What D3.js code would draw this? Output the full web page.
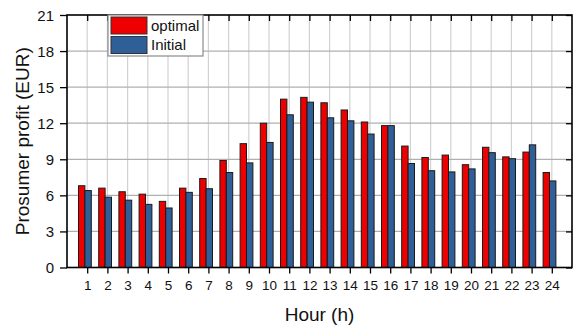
<!DOCTYPE html>
<html>
<head>
<meta charset="utf-8">
<script src="https://cdn.jsdelivr.net/npm/d3@7"></script>
<style>
  html, body { margin: 0; padding: 0; background: #fff; }
  svg { display: block; font-family: "Liberation Sans", Arial, sans-serif; }
</style>
</head>
<body>
<svg id="chart" width="576" height="329"></svg>
<script>
// Hourly prosumer profit, optimal vs. initial schedule
const hours = d3.range(1, 25);
const optimalProfit = [6.8, 6.6, 6.3, 6.1, 5.5, 6.6, 7.4, 8.9, 10.3, 12.0, 14.0, 14.15,
                       13.7, 13.1, 12.1, 11.8, 10.1, 9.15, 9.35, 8.55, 10.0, 9.2, 9.6, 7.9];
const initialProfit = [6.4, 5.85, 5.6, 5.25, 4.95, 6.25, 6.55, 7.9, 8.7, 10.4, 12.7, 13.75,
                       12.45, 12.2, 11.1, 11.8, 8.65, 8.05, 7.95, 8.2, 9.55, 9.05, 10.2, 7.2];
const yTicks = [0, 3, 6, 9, 12, 15, 18, 21];
const seriesNames = ["optimal", "Initial"];
const seriesColors = ["#ee0000", "#2f5f98"];

const svg = d3.select("#chart");
const plotLeft = 67, plotRight = 572, plotTop = 15, plotBottom = 267.5;

const x = d3.scaleLinear().domain([0, 25]).range([plotLeft, plotRight]);
const y = d3.scaleLinear().domain([0, 21]).range([plotBottom, plotTop]);

// grid
svg.append("g").selectAll("line").data(hours).join("line")
  .attr("x1", d => x(d)).attr("x2", d => x(d))
  .attr("y1", plotTop).attr("y2", plotBottom)
  .attr("stroke", "#d2d2d2").attr("stroke-width", 1.2);
svg.append("g").selectAll("line").data(yTicks.slice(1, -1)).join("line")
  .attr("x1", plotLeft).attr("x2", plotRight)
  .attr("y1", d => y(d)).attr("y2", d => y(d))
  .attr("stroke", "#b0b0b0").attr("stroke-width", 1.2);

// bars
const barW = 6.4;
const groupShift = -2.3;
const series = [optimalProfit, initialProfit];
series.forEach((vals, si) => {
  svg.append("g").selectAll("rect").data(hours).join("rect")
    .attr("x", (d, i) => x(d) + groupShift + (si - 1) * barW)
    .attr("y", (d, i) => y(vals[i]))
    .attr("width", barW)
    .attr("height", (d, i) => y(0) - y(vals[i]))
    .attr("fill", seriesColors[si])
    .attr("stroke", "#1a1a1a").attr("stroke-width", 1);
});

// axes
const axisColor = "#000";
const bottomAxis = svg.append("g").attr("transform", `translate(0,${plotBottom})`)
  .call(d3.axisBottom(x).tickValues(hours).tickSize(6).tickPadding(7));
const leftAxis = svg.append("g").attr("transform", `translate(${plotLeft},0)`)
  .call(d3.axisLeft(y).tickValues(yTicks).tickSize(7).tickPadding(6));
const topAxis = svg.append("g").attr("transform", `translate(0,${plotTop})`)
  .call(d3.axisBottom(x).tickValues(hours).tickSize(6).tickFormat(""));
const rightAxis = svg.append("g").attr("transform", `translate(${plotRight},0)`)
  .call(d3.axisLeft(y).tickValues(yTicks).tickSize(6).tickFormat(""));

[bottomAxis, leftAxis, topAxis, rightAxis].forEach(g => {
  g.select(".domain").remove();
  g.selectAll(".tick line").attr("stroke", axisColor).attr("stroke-width", 1.3);
  g.selectAll("text").attr("fill", "#111").style("font-family", "Liberation Sans, Arial, sans-serif");
});
bottomAxis.selectAll("text").style("font-size", "13.5px");
leftAxis.selectAll("text").style("font-size", "15px").attr("dy", "0.36em");

// frame
svg.append("rect")
  .attr("x", plotLeft).attr("y", plotTop)
  .attr("width", plotRight - plotLeft).attr("height", plotBottom - plotTop)
  .attr("fill", "none").attr("stroke", "#000").attr("stroke-width", 1.6);

// axis titles
svg.append("text")
  .attr("x", (plotLeft + plotRight) / 2).attr("y", 321)
  .attr("text-anchor", "middle")
  .style("font-size", "19px").attr("fill", "#111")
  .text("Hour (h)");
svg.append("text")
  .attr("transform", `translate(29,${(plotTop + plotBottom) / 2}) rotate(-90)`)
  .attr("text-anchor", "middle")
  .style("font-size", "19px").attr("fill", "#111")
  .text("Prosumer profit (EUR)");

// legend
const lg = svg.append("g").attr("transform", "translate(108,15)");
lg.append("rect").attr("x", 0).attr("y", 0).attr("width", 95).attr("height", 41)
  .attr("fill", "#fff").attr("stroke", "#8a8a8a").attr("stroke-width", 1.2);
seriesNames.forEach((name, i) => {
  lg.append("rect")
    .attr("x", 3).attr("y", 2 + i * 19.5).attr("width", 36).attr("height", 17)
    .attr("fill", seriesColors[i]).attr("stroke", "#333").attr("stroke-width", 1);
  lg.append("text")
    .attr("x", 43).attr("y", 10.5 + i * 19.5).attr("dy", "0.36em")
    .style("font-size", "15px").attr("fill", "#111")
    .text(name);
});
</script>
</body>
</html>
